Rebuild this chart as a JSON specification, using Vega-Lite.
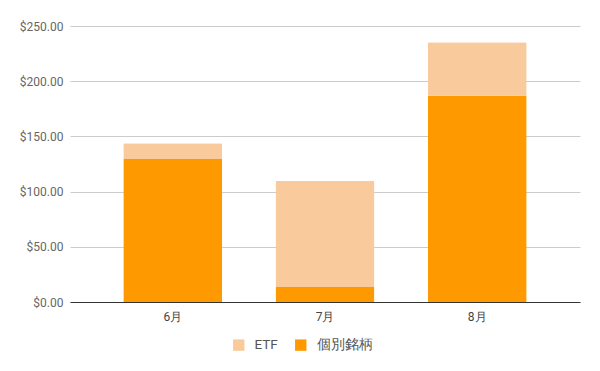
{
  "$schema": "https://vega.github.io/schema/vega-lite/v6.json",
  "width": 510,
  "height": 276,
  "autosize": {"type": "none"},
  "padding": {"left": 70, "top": 26, "right": 20, "bottom": 69},
  "background": "white",
  "data": {
    "values": [
      {"month": "6月", "series": "個別銘柄", "value": 129.5},
      {"month": "6月", "series": "ETF", "value": 14.2},
      {"month": "7月", "series": "個別銘柄", "value": 13.6},
      {"month": "7月", "series": "ETF", "value": 96.0},
      {"month": "8月", "series": "個別銘柄", "value": 186.9},
      {"month": "8月", "series": "ETF", "value": 48.3}
    ]
  },
  "mark": {"type": "bar", "cornerRadiusTopLeft": 1.5, "cornerRadiusTopRight": 1.5},
  "encoding": {
    "x": {
      "field": "month",
      "type": "nominal",
      "sort": ["6月", "7月", "8月"],
      "scale": {"paddingInner": 0.35, "paddingOuter": 0.35},
      "axis": {
        "title": null,
        "labelAngle": 0,
        "ticks": false,
        "labelPadding": 9,
        "domainColor": "#333333",
        "labelColor": "#444444",
        "labelFont": "Roboto",
        "labelFontSize": 12
      }
    },
    "y": {
      "field": "value",
      "type": "quantitative",
      "stack": "zero",
      "scale": {"domain": [0, 250], "nice": false},
      "axis": {
        "title": null,
        "values": [0, 50, 100, 150, 200, 250],
        "format": "$,.2f",
        "ticks": false,
        "domain": false,
        "labelPadding": 7,
        "gridColor": "#cccccc",
        "labelColor": "#666666",
        "labelFont": "Roboto",
        "labelFontSize": 12
      }
    },
    "color": {
      "field": "series",
      "type": "nominal",
      "scale": {"domain": ["ETF", "個別銘柄"], "range": ["#f9cb9c", "#ff9900"]},
      "legend": {
        "title": null,
        "orient": "none",
        "legendX": 162,
        "legendY": 312,
        "padding": 0,
        "direction": "horizontal",
        "symbolType": "square",
        "symbolSize": 130,
        "symbolStrokeWidth": 0,
        "labelOffset": 9,
        "labelFont": "Roboto",
        "labelFontSize": 13.5,
        "labelColor": "#555555",
        "columnPadding": 16
      }
    },
    "order": {"field": "series", "sort": "descending"}
  },
  "config": {"view": {"stroke": null}}
}
